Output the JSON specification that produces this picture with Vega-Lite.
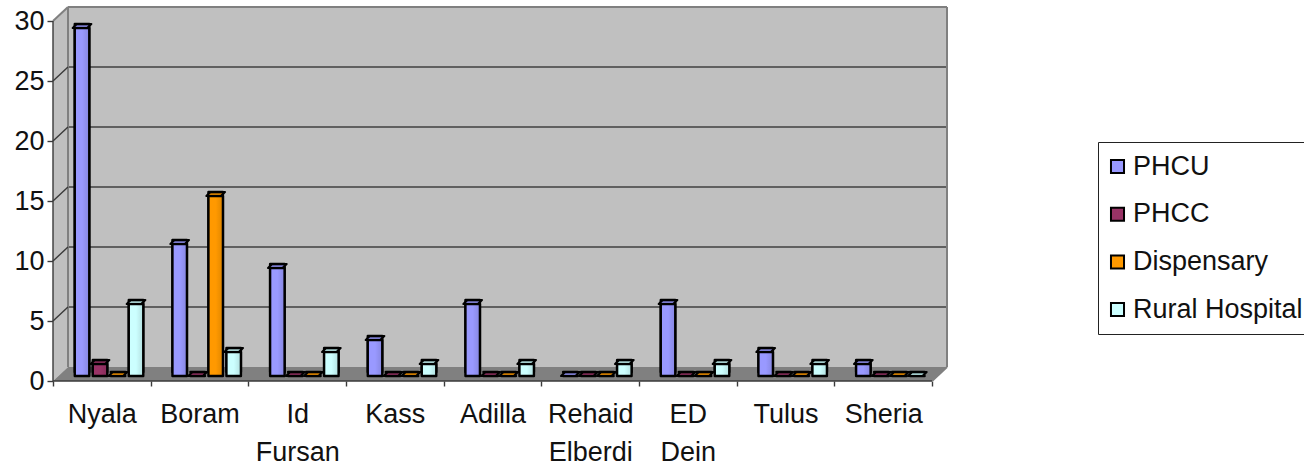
{
"$schema":"https://vega.github.io/schema/vega-lite/v6.json",
"width":894,"height":374,"autosize":"none",
"padding":{"left":53,"top":7,"right":357,"bottom":86},
"background":"white",
"config":{"view":{"stroke":null},"font":"Liberation Sans"},
"datasets":{
"counts":[
{"site":"Nyala","type":"PHCU","n":29},{"site":"Nyala","type":"PHCC","n":1},{"site":"Nyala","type":"Dispensary","n":0},{"site":"Nyala","type":"Rural Hospital","n":6},
{"site":"Boram","type":"PHCU","n":11},{"site":"Boram","type":"PHCC","n":0},{"site":"Boram","type":"Dispensary","n":15},{"site":"Boram","type":"Rural Hospital","n":2},
{"site":"Id Fursan","type":"PHCU","n":9},{"site":"Id Fursan","type":"PHCC","n":0},{"site":"Id Fursan","type":"Dispensary","n":0},{"site":"Id Fursan","type":"Rural Hospital","n":2},
{"site":"Kass","type":"PHCU","n":3},{"site":"Kass","type":"PHCC","n":0},{"site":"Kass","type":"Dispensary","n":0},{"site":"Kass","type":"Rural Hospital","n":1},
{"site":"Adilla","type":"PHCU","n":6},{"site":"Adilla","type":"PHCC","n":0},{"site":"Adilla","type":"Dispensary","n":0},{"site":"Adilla","type":"Rural Hospital","n":1},
{"site":"Rehaid Elberdi","type":"PHCU","n":0},{"site":"Rehaid Elberdi","type":"PHCC","n":0},{"site":"Rehaid Elberdi","type":"Dispensary","n":0},{"site":"Rehaid Elberdi","type":"Rural Hospital","n":1},
{"site":"ED Dein","type":"PHCU","n":6},{"site":"ED Dein","type":"PHCC","n":0},{"site":"ED Dein","type":"Dispensary","n":0},{"site":"ED Dein","type":"Rural Hospital","n":1},
{"site":"Tulus","type":"PHCU","n":2},{"site":"Tulus","type":"PHCC","n":0},{"site":"Tulus","type":"Dispensary","n":0},{"site":"Tulus","type":"Rural Hospital","n":1},
{"site":"Sheria","type":"PHCU","n":1},{"site":"Sheria","type":"PHCC","n":0},{"site":"Sheria","type":"Dispensary","n":0},{"site":"Sheria","type":"Rural Hospital","n":0}
],
"wall":[{"d":0,"top":30,"bot":0},{"d":0.1536,"top":31.1667,"bot":1.1667},{"d":9.1536,"top":31.1667,"bot":1.1667}],
"floor":[{"d":0,"top":0,"bot":0},{"d":0.1536,"top":1.1667,"bot":0},{"d":9,"top":1.1667,"bot":0},{"d":9.1536,"top":1.1667,"bot":1.1667}],
"grid":[{"v":5,"d":0.1536,"d2":9.1536},{"v":10,"d":0.1536,"d2":9.1536},{"v":15,"d":0.1536,"d2":9.1536},{"v":20,"d":0.1536,"d2":9.1536},{"v":25,"d":0.1536,"d2":9.1536}],
"outline":[
{"d":0.1536,"d2":9.1536,"v":31.1667,"v2":31.1667},
{"d":9.1536,"d2":9.1536,"v":1.1667,"v2":31.1667},
{"d":0.1536,"d2":0.1536,"v":1.1667,"v2":31.1667},
{"d":0,"d2":0.1536,"v":30,"v2":31.1667},
{"d":9,"d2":9.1536,"v":0,"v2":1.1667}],
"axes":[
{"d":0,"d2":9,"v":0,"v2":0},
{"d":0,"d2":0,"v":0,"v2":30},
{"d":0,"d2":0.1536,"v":5,"v2":6.1667},
{"d":0,"d2":0.1536,"v":10,"v2":11.1667},
{"d":0,"d2":0.1536,"v":15,"v2":16.1667},
{"d":0,"d2":0.1536,"v":20,"v2":21.1667},
{"d":0,"d2":0.1536,"v":25,"v2":26.1667}]
},
"resolve":{"scale":{"x":"independent"},"axis":{"y":"independent"}},
"layer":[
{"encoding":{
"x":{"field":"d","type":"quantitative","axis":null,"scale":{"domain":[0,9.1536],"nice":false,"zero":false}},
"y":{"field":"v","type":"quantitative","axis":null,"scale":{"domain":[0,31.1667],"nice":false}}
},
"layer":[
{"data":{"name":"wall"},"mark":{"type":"area","color":"#c0c0c0"},"encoding":{"y":{"field":"top","type":"quantitative","axis":null},"y2":{"field":"bot"}}},
{"data":{"name":"floor"},"mark":{"type":"area","color":"#808080"},"encoding":{"y":{"field":"top","type":"quantitative","axis":null},"y2":{"field":"bot"}}},
{"data":{"name":"grid"},"mark":{"type":"rule","color":"#000000","strokeWidth":1,"yOffset":-14},"encoding":{"x2":{"field":"d2"}}},
{"data":{"name":"outline"},"mark":{"type":"rule","color":"#808080","strokeWidth":2},"encoding":{"x2":{"field":"d2"},"y2":{"field":"v2"}}},
{"data":{"name":"axes"},"mark":{"type":"rule","color":"#3a3a3a","strokeWidth":1.4},"encoding":{"x2":{"field":"d2"},"y2":{"field":"v2"}}}
]},
{"data":{"name":"counts"},
"encoding":{
"x":{"field":"site","type":"nominal","sort":null,"title":null,"scale":{"paddingInner":0,"paddingOuter":0.0768,"align":0},
"axis":{"orient":"bottom","domain":false,"labelAngle":0,"labelFontSize":27,"labelColor":"#111111","labelPadding":15,"labelLineHeight":38,"labelBaseline":"top","labelExpr":"split(datum.label,' ')","tickBand":"extent","tickColor":"#3a3a3a","tickSize":5,"tickWidth":1.4}},
"xOffset":{"field":"type","type":"nominal","sort":["PHCU","PHCC","Dispensary","Rural Hospital"],"scale":{"paddingInner":0,"paddingOuter":0.713,"align":0.78}},
"y":{"field":"n","type":"quantitative","stack":null,"title":null,"scale":{"domain":[0,31.1667],"nice":false},
"axis":{"orient":"left","values":[0,5,10,15,20,25,30],"grid":false,"domain":false,"labelFontSize":27,"labelColor":"#111111","labelPadding":3,"tickColor":"#3a3a3a","tickSize":6,"tickWidth":1.4}},
"y2":{"datum":0},
"color":{"field":"type","type":"nominal","title":null,
"scale":{"domain":["PHCU","PHCC","Dispensary","Rural Hospital"],"range":["#9999ff","#993366","#ff9900","#ccffff"]},
"legend":{"orient":"none","legendX":1045,"legendY":135,"symbolType":"square","symbolSize":170,"symbolStrokeColor":"black","symbolStrokeWidth":2,"symbolOpacity":1,"symbolOffset":-5,"labelFontSize":27,"labelColor":"#111111","labelLimit":400,"rowPadding":19.7,"padding":11,"strokeColor":"#222222","fillColor":"white","labelOffset":2}}
},
"layer":[
{"mark":{"type":"bar","width":14.5,"xOffset":2,"yOffset":-9,"y2Offset":-9,"stroke":"black","strokeWidth":2.4,"strokeJoin":"round"}},
{"mark":{"type":"bar","width":14.5,"xOffset":2,"yOffset":-9,"y2Offset":-9,"strokeWidth":0},"encoding":{"color":{"value":"rgba(0,0,0,0.2)"}}},
{"mark":{"type":"bar","width":14.5,"xOffset":-2,"yOffset":-5,"y2Offset":-5,"stroke":"black","strokeWidth":2.4,"strokeJoin":"round"}},
{"mark":{"type":"bar","width":14.5,"xOffset":-2,"yOffset":-5,"y2Offset":-5},"encoding":{"color":{"value":{"gradient":"linear","x1":0,"x2":1,"y1":0,"y2":0,"stops":[{"offset":0,"color":"rgba(0,0,0,0)"},{"offset":0.5,"color":"rgba(0,0,0,0)"},{"offset":1,"color":"rgba(0,0,0,0.12)"}]}}}},
{"mark":{"type":"point","shape":"M-1.03,0L0.58,0L1.03,-0.44L-0.58,-0.44Z","filled":true,"size":324,"opacity":1,"stroke":"black","strokeWidth":2.2,"strokeJoin":"round","yOffset":-5},"encoding":{"y2":null}},
{"mark":{"type":"point","shape":"M-1.03,0L0.58,0L1.03,-0.44L-0.58,-0.44Z","filled":true,"size":324,"opacity":1,"yOffset":-5},"encoding":{"y2":null,"color":{"value":"rgba(0,0,0,0.2)"}}}
]}
]
}
